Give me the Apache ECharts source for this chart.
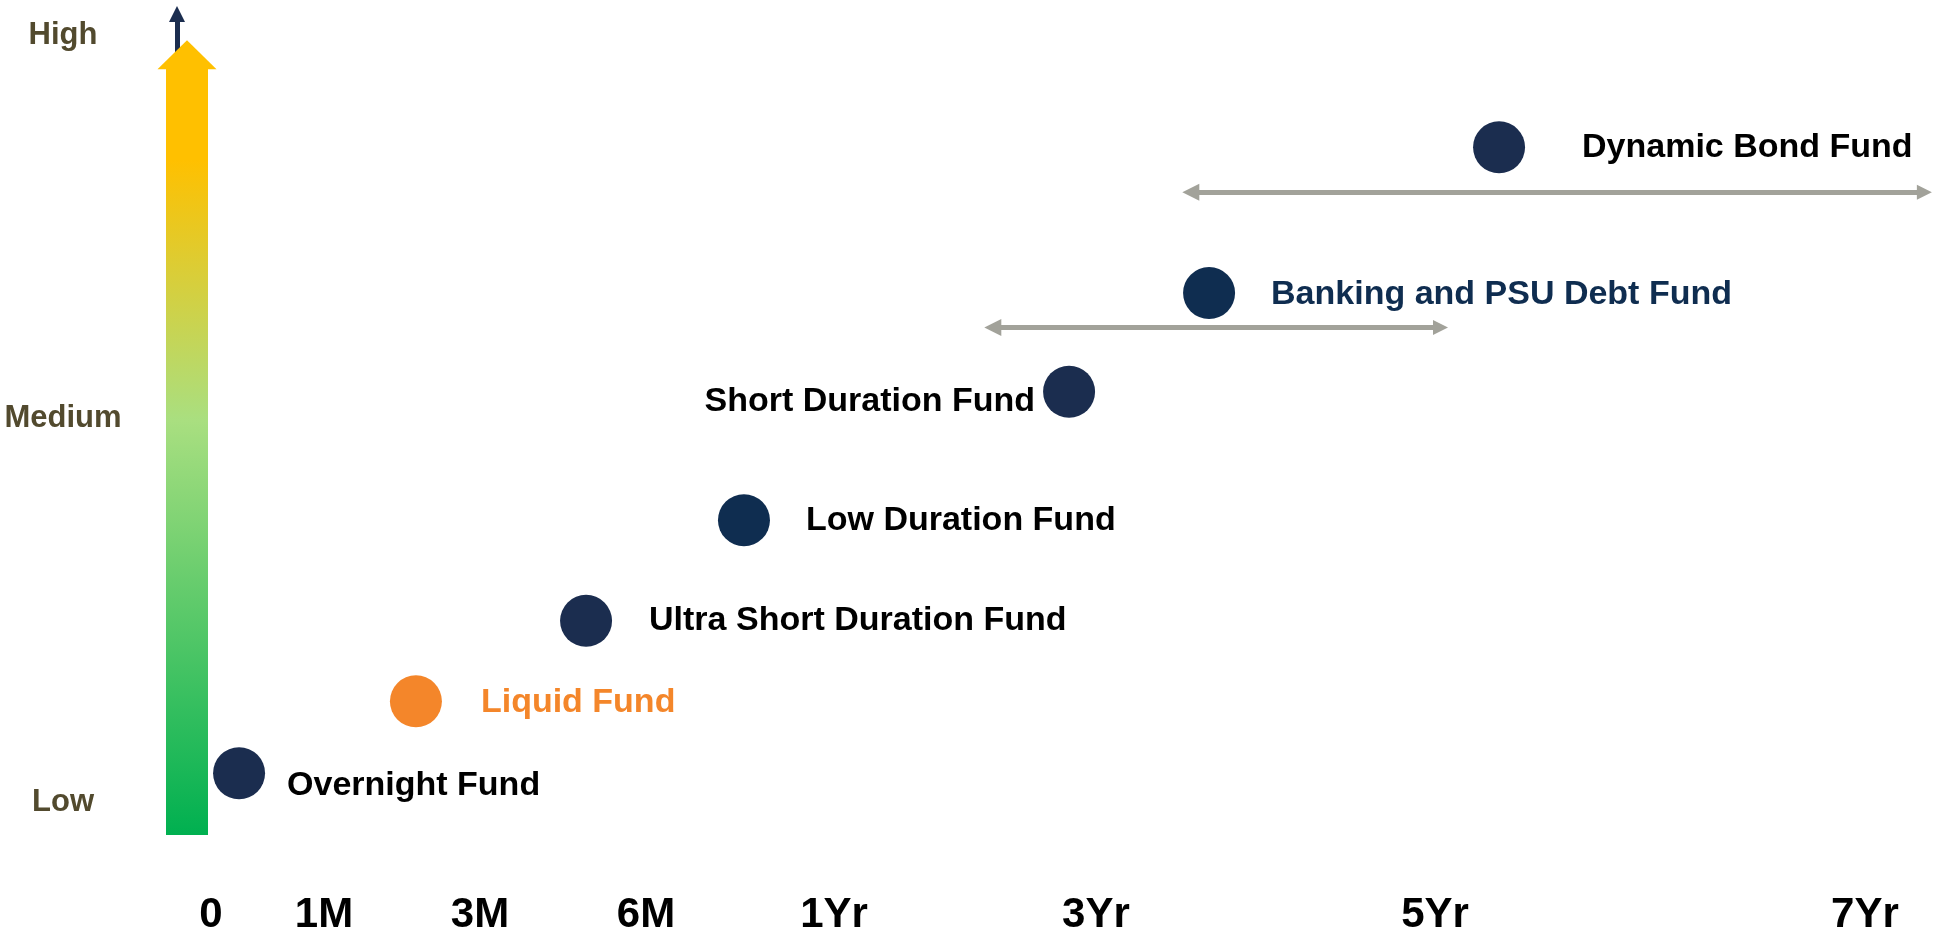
<!DOCTYPE html>
<html>
<head>
<meta charset="utf-8">
<title>Debt Funds: Risk vs Duration</title>
<script src="https://cdn.jsdelivr.net/npm/echarts@6/dist/echarts.min.js"></script>
<style>
    html, body { margin: 0; padding: 0; background: #ffffff; }
    #chart { width: 1943px; height: 936px; }
</style>
</head>
<body>
<div id="chart"></div>
<script>
// Duration axis: position of each tick along the axis, and its label
const durationTicks = [0, 6.56, 15.62, 25.26, 36.18, 51.39, 71.08, 96.05];
const durationLabels = ['0', '1M', '3M', '6M', '1Yr', '3Yr', '5Yr', '7Yr'];

// Risk axis
const riskTicks = [10, 50, 90];
const riskLabels = ['Low', 'Medium', 'High'];

// Funds (duration position, risk level)
const fundNames = [
    'Overnight Fund',
    'Liquid Fund',
    'Ultra Short Duration Fund',
    'Low Duration Fund',
    'Short Duration Fund',
    'Banking and PSU Debt Fund',
    'Dynamic Bond Fund'
];
const fundDuration = [1.63, 11.9, 21.78, 30.95, 49.83, 57.96, 74.8];
const fundRisk = [13.0, 20.5, 28.9, 39.4, 52.8, 63.1, 78.3];

// Duration ranges drawn as double arrows
const rangeStart = [45.4, 56.9];
const rangeEnd = [71.4, 99.5];
const rangeRisk = [59.5, 73.6];

const FONT = '"Liberation Sans", Arial, sans-serif';
const NAVY = '#1b2d4f';
const NAVY_BLUE = '#0f2d50';
const ORANGE = '#f4862a';

// per-fund look of dot and label
const fundStyle = {
    'Overnight Fund':            { dot: NAVY,      text: '#000000', pos: 'right', dist: 22, off: [0, 12] },
    'Liquid Fund':               { dot: ORANGE,    text: ORANGE,    pos: 'right', dist: 39, off: [0, 1] },
    'Ultra Short Duration Fund': { dot: NAVY,      text: '#000000', pos: 'right', dist: 37, off: [0, 0] },
    'Low Duration Fund':         { dot: NAVY_BLUE, text: '#000000', pos: 'right', dist: 36, off: [0, 0] },
    'Short Duration Fund':       { dot: NAVY,      text: '#000000', pos: 'left',  dist: 8,  off: [0, 10] },
    'Banking and PSU Debt Fund': { dot: NAVY_BLUE, text: NAVY_BLUE, pos: 'right', dist: 36, off: [0, 2] },
    'Dynamic Bond Fund':         { dot: NAVY,      text: '#000000', pos: 'right', dist: 57, off: [0, 0] }
};

const fundData = fundNames.map(function (name, i) {
    const s = fundStyle[name];
    return {
        name: name,
        value: [fundDuration[i], fundRisk[i]],
        itemStyle: { color: s.dot, opacity: 1 },
        label: {
            show: true,
            position: s.pos,
            distance: s.dist,
            offset: s.off,
            color: s.text
        }
    };
});

const rangeData = rangeStart.map(function (start, i) {
    return { coords: [[start, rangeRisk[i]], [rangeEnd[i], rangeRisk[i]]] };
});

// big yellow-to-green risk arrow, placed from the risk axis
function renderRiskArrow(params, api) {
    const low = api.coord([0, riskTicks[0]]);
    const high = api.coord([0, riskTicks[riskTicks.length - 1]]);
    const cx = low[0] - 24;
    const tipY = high[1] + 5;
    const headY = tipY + 29;
    const bottomY = low[1] + 33;
    return {
        type: 'group',
        children: [
            {
                type: 'rect',
                shape: { x: cx - 21, y: headY - 1, width: 42, height: bottomY - headY + 1 },
                style: {
                    fill: new echarts.graphic.LinearGradient(0, 0, 0, 1, [
                        { offset: 0, color: '#ffc000' },
                        { offset: 0.12, color: '#ffc000' },
                        { offset: 0.46, color: '#a9df80' },
                        { offset: 1, color: '#00b050' }
                    ])
                }
            },
            {
                type: 'polygon',
                shape: { points: [[cx, tipY], [cx + 29.5, headY], [cx - 29.5, headY]] },
                style: { fill: '#ffc000' }
            }
        ]
    };
}

const chart = echarts.init(document.getElementById('chart'));

const option = {
    backgroundColor: '#ffffff',
    animation: false,
    grid: { left: 211, right: 10, top: 16, bottom: 131 },
    xAxis: {
        type: 'value',
        min: 0,
        max: 100,
        splitLine: { show: false },
        axisLine: { show: false },
        axisTick: { show: false },
        axisLabel: {
            customValues: durationTicks,
            margin: 92,
            fontSize: 42,
            fontWeight: 'bold',
            fontFamily: FONT,
            color: '#000000',
            formatter: function (v) {
                return durationLabels[durationTicks.indexOf(v)];
            }
        }
    },
    yAxis: {
        type: 'value',
        min: 10,
        max: 92,
        offset: 34,
        splitLine: { show: false },
        axisTick: { show: false },
        axisLine: {
            show: true,
            onZero: false,
            lineStyle: { color: NAVY, width: 5 },
            symbol: ['none', 'triangle'],
            symbolSize: [16, 16],
            symbolOffset: [0, 2]
        },
        axisLabel: {
            customValues: riskTicks,
            margin: 114,
            align: 'center',
            padding: [0, 0, 8, 0],
            fontSize: 31,
            fontWeight: 'bold',
            fontFamily: FONT,
            color: '#524a2e',
            formatter: function (v) {
                return riskLabels[riskTicks.indexOf(v)];
            }
        }
    },
    series: [
        {
            type: 'custom',
            silent: true,
            clip: false,
            z: 3,
            data: [[0, riskTicks[0]]],
            renderItem: renderRiskArrow
        },
        {
            type: 'lines',
            coordinateSystem: 'cartesian2d',
            silent: true,
            z: 3,
            symbol: ['triangle', 'triangle'],
            symbolSize: [17, 15],
            lineStyle: { color: '#a2a29a', width: 5, opacity: 1, curveness: 0 },
            data: rangeData
        },
        {
            type: 'scatter',
            symbol: 'circle',
            symbolSize: 52,
            z: 4,
            silent: true,
            itemStyle: { opacity: 1 },
            label: {
                show: true,
                formatter: '{b}',
                fontSize: 34,
                fontWeight: 'bold',
                fontFamily: FONT
            },
            data: fundData
        }
    ]
};

chart.setOption(option);
</script>
</body>
</html>
